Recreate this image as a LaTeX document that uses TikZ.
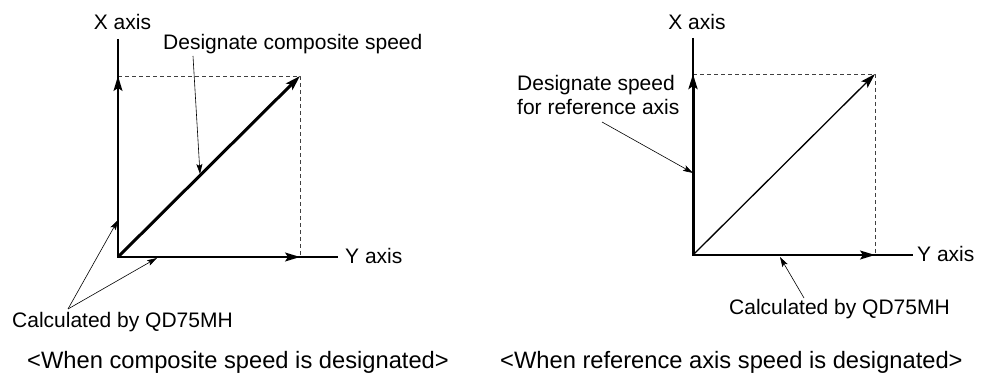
\documentclass[tikz,border=0pt]{standalone}
\usepackage{fontspec}
\setmainfont{Liberation Sans}
\usetikzlibrary{arrows.meta}
\begin{document}
\begin{tikzpicture}[x=1pt,y=-1pt,
  axis/.style={line width=1.3pt},
  bigarrow/.style={-{Stealth[length=15pt,width=9pt,inset=3pt]}},
  leader/.style={line width=0.6pt,-{Stealth[length=10pt,width=6pt,inset=2pt]}},
  guide/.style={line width=0.8pt,dash pattern=on 4pt off 3pt,black!75},
  lbl/.style={inner sep=0pt,font=\fontsize{21}{24}\selectfont},
  captxt/.style={inner sep=0pt,font=\fontsize{23.7}{27}\selectfont}]
\useasboundingbox (0,0) rectangle (989,374);
% ---------- left diagram ----------
\coordinate (LO) at (118,257);
\coordinate (LXt) at (118,39);
\coordinate (LXa) at (118,76);
\coordinate (LYe) at (338,257);
\coordinate (LYa) at (300,257);
\coordinate (LP) at (300,76);
\coordinate (LD) at (200,174);
\coordinate (LXh) at (118,220);
\coordinate (LYh) at (157,258);
\draw[guide] (LXa) -- (LP) -- (LYa);
\draw[axis] (LXt) -- (LO) -- (LYe);
\draw[axis,bigarrow] (LO) -- (LXa);
\draw[axis,bigarrow] (LO) -- (LYa);
\draw[line width=3pt,bigarrow] (LO) -- (LP);
\node[lbl] (lx) at (122.5,22) {X axis};
\node[lbl,anchor=west] (ly) at (345,256) {Y axis};
\node[lbl,anchor=west] (ldes) at (163,44) {Designate composite speed};
\node[lbl,anchor=west] (lcalc) at (12,322) {Calculated by QD75MH};
\node[captxt,anchor=west] (lcap) at (27,362) {<When composite speed is designated>};
\coordinate (ldesf) at (193,56);
\coordinate (lcalcf) at (68,309);
\draw[leader] (ldesf) -- (LD);
\draw[leader] (lcalcf) -- (LXh);
\draw[leader] (lcalcf) -- (LYh);
% ---------- right diagram ----------
\coordinate (RO) at (693,255);
\coordinate (RXt) at (693,38);
\coordinate (RXa) at (693,74);
\coordinate (RYe) at (913,255);
\coordinate (RYa) at (875,255);
\coordinate (RP) at (875,74);
\coordinate (RXh) at (693,173);
\coordinate (RYh) at (780,257);
\draw[guide] (RXa) -- (RP) -- (RYa);
\draw[axis] (RXt) -- (RO) -- (RYe);
\draw[line width=3pt,bigarrow] (RO) -- (RXa);
\draw[axis,bigarrow] (RO) -- (RYa);
\draw[line width=1.3pt,bigarrow] (RO) -- (RP);
\node[lbl] (rx) at (697,22) {X axis};
\node[lbl,anchor=west] (ry) at (917,254) {Y axis};
\node[lbl,anchor=west,align=left] (rdes) at (517,95) {Designate speed\\for reference axis};
\node[lbl,anchor=west] (rcalc) at (729,309) {Calculated by QD75MH};
\node[captxt,anchor=west] (rcap) at (500,362) {<When reference axis speed is designated>};
\coordinate (rdesf) at (602,122);
\coordinate (rcalcf) at (804,298);
\draw[leader] (rdesf) -- (RXh);
\draw[leader] (rcalcf) -- (RYh);
\end{tikzpicture}
\end{document}
